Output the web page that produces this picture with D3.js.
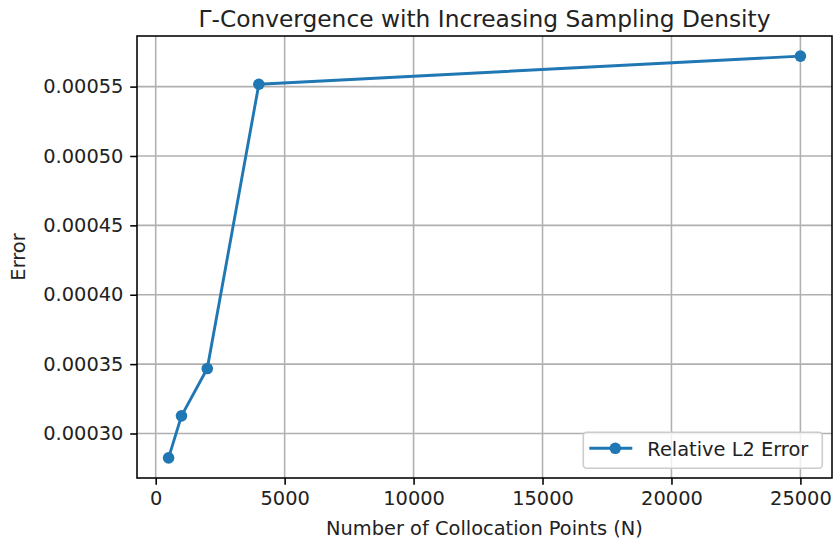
<!DOCTYPE html>
<html>
<head>
<meta charset="utf-8">
<script src="https://cdn.jsdelivr.net/npm/d3@7"></script>
<style>
  body { margin: 0; background: #fff; }
  svg { display: block; font-family: "DejaVu Sans", sans-serif; }
</style>
</head>
<body>
<svg id="chart" width="833" height="544"></svg>
<script>
// values
var pointsN = [500, 1000, 2000, 4000, 25000];
var relL2Error = [0.0002824, 0.0003127, 0.0003468, 0.0005517, 0.000572];
var xTickValues = [0, 5000, 10000, 15000, 20000, 25000];
var yTickValues = [0.00030, 0.00035, 0.00040, 0.00045, 0.00050, 0.00055];
var seriesName = "Relative L2 Error";

var svg = d3.select("#chart");
var margin = {top: 36, right: 1, bottom: 66, left: 137};
var width = +svg.attr("width") - margin.left - margin.right;
var height = +svg.attr("height") - margin.top - margin.bottom;
var g = svg.append("g").attr("transform", "translate(" + margin.left + "," + margin.top + ")");

var blue = "#1f77b4";
var tickFont = 19.4;

// matplotlib style 5% margins around the data
function padded(ext) {
    var d = (ext[1] - ext[0]) * 0.05;
    return [ext[0] - d, ext[1] + d];
}

var x = d3.scaleLinear().domain(padded(d3.extent(pointsN))).range([0, width]);
var y = d3.scaleLinear().domain(padded(d3.extent(relL2Error))).range([height, 0]);

// grid
g.append("g").selectAll("line").data(xTickValues).enter().append("line")
    .attr("x1", function(d){ return x(d); }).attr("x2", function(d){ return x(d); })
    .attr("y1", 0).attr("y2", height)
    .attr("stroke", "#b0b0b0").attr("stroke-width", 1.56);
g.append("g").selectAll("line").data(yTickValues).enter().append("line")
    .attr("y1", function(d){ return y(d); }).attr("y2", function(d){ return y(d); })
    .attr("x1", 0).attr("x2", width)
    .attr("stroke", "#b0b0b0").attr("stroke-width", 1.56);

// axes
var xAxis = d3.axisBottom(x).tickValues(xTickValues).tickFormat(d3.format("d"))
    .tickSizeInner(6.8).tickSizeOuter(0).tickPadding(6.8);
var yAxis = d3.axisLeft(y).tickValues(yTickValues).tickFormat(d3.format(".5f"))
    .tickSizeInner(6.8).tickSizeOuter(0).tickPadding(6.8);

var gx = g.append("g").attr("transform", "translate(0," + height + ")").call(xAxis);
var gy = g.append("g").call(yAxis);
[gx, gy].forEach(function(a){
    a.select(".domain").remove();
    a.selectAll(".tick line").attr("stroke", "#000").attr("stroke-width", 1.56);
    a.selectAll(".tick text").attr("font-size", tickFont).attr("fill", "#222")
        .attr("font-family", "DejaVu Sans, sans-serif");
});

// spines
g.append("rect").attr("width", width).attr("height", height)
    .attr("fill", "none").attr("stroke", "#000").attr("stroke-width", 1.56);

// series
var lineFunc = d3.line()
    .x(function(d, i){ return x(pointsN[i]); })
    .y(function(d){ return y(d); });
g.append("path").attr("d", lineFunc(relL2Error))
    .attr("fill", "none").attr("stroke", blue).attr("stroke-width", 2.9)
    .attr("stroke-linejoin", "round");
g.selectAll(".pt").data(relL2Error).enter().append("circle")
    .attr("class", "pt")
    .attr("cx", function(d, i){ return x(pointsN[i]); })
    .attr("cy", function(d){ return y(d); })
    .attr("r", 5.8).attr("fill", blue);

// title and labels
svg.append("text").attr("x", margin.left + width / 2).attr("y", 27)
    .attr("text-anchor", "middle").attr("font-size", 23.3).attr("fill", "#222")
    .text("Γ-Convergence with Increasing Sampling Density");
svg.append("text").attr("x", margin.left + width / 2).attr("y", 535)
    .attr("text-anchor", "middle").attr("font-size", tickFont).attr("fill", "#222")
    .text("Number of Collocation Points (N)");
svg.append("text")
    .attr("transform", "translate(25," + (margin.top + height / 2) + ") rotate(-90)")
    .attr("text-anchor", "middle").attr("font-size", tickFont).attr("fill", "#222")
    .text("Error");

// legend, lower right
var legW = 239, legH = 36;
var leg = g.append("g")
    .attr("transform", "translate(" + (width - 9.7 - legW) + "," + (height - 9.7 - legH) + ")");
leg.append("rect").attr("width", legW).attr("height", legH).attr("rx", 3.5)
    .attr("fill", "#fff").attr("fill-opacity", 0.8)
    .attr("stroke", "#cccccc").attr("stroke-width", 1.56);
leg.append("line").attr("x1", 6).attr("x2", 49).attr("y1", 16).attr("y2", 16)
    .attr("stroke", blue).attr("stroke-width", 2.9);
leg.append("circle").attr("cx", 32).attr("cy", 16).attr("r", 5.8).attr("fill", blue);
leg.append("text").attr("x", 64).attr("y", 23.5).attr("font-size", tickFont).attr("fill", "#222")
    .text(seriesName);
</script>
</body>
</html>
